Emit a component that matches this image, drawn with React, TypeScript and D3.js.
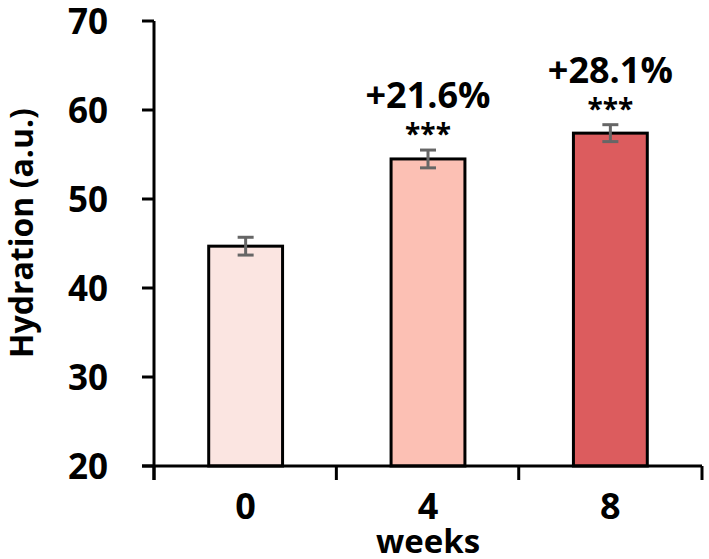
import React from 'react';
import * as d3 from 'd3';

const weeks = ['0', '4', '8'];
const hydration = [44.7, 54.5, 57.4];
const errors = [1.0, 1.0, 0.95];
const changeLabels = ['', '+21.6%', '+28.1%'];
const sigLabels = ['', '***', '***'];
const barColors = ['#fbe5e1', '#fcc0b4', '#dc5c5e'];
const yTicks = [20, 30, 40, 50, 60, 70];

const App = () => {
  const width = 709;
  const height = 559;
  const margin = { top: 21, right: 7, bottom: 93, left: 154 };
  const font = '"Open Sans", "DejaVu Sans", sans-serif';

  const x = d3.scaleBand()
    .domain(weeks)
    .range([margin.left, width - margin.right])
    .paddingInner(0.595)
    .paddingOuter(0.3);

  const y = d3.scaleLinear()
    .domain([20, 70])
    .range([height - margin.bottom, margin.top]);

  const step = x.step();
  const boundaries = weeks.map((_, i) => margin.left + i * step).concat([width - margin.right]);
  const base = y(20);

  return (
    <svg width={width} height={height} style={{ position: 'absolute', left: 0, top: 0 }}>
      <rect width={width} height={height} fill="#fff" />

      {/* bars */}
      {weeks.map((w, i) => (
        <rect key={w}
          x={x(w)} y={y(hydration[i])}
          width={x.bandwidth()} height={base - y(hydration[i])}
          fill={barColors[i]} stroke="#000" strokeWidth={3} />
      ))}

      {/* error bars */}
      {weeks.map((w, i) => {
        const cx = (x(w) as number) + x.bandwidth() / 2;
        const top = y(hydration[i] + errors[i]);
        const bot = y(hydration[i] - errors[i]);
        return (
          <g key={w} stroke="#666" strokeWidth={3}>
            <line x1={cx} x2={cx} y1={top} y2={bot} />
            <line x1={cx - 8} x2={cx + 8} y1={top} y2={top} />
            <line x1={cx - 8} x2={cx + 8} y1={bot} y2={bot} />
          </g>
        );
      })}

      {/* annotations */}
      {weeks.map((w, i) => {
        const cx = (x(w) as number) + x.bandwidth() / 2;
        const top = y(hydration[i] + errors[i]);
        return (
          <g key={w} fontFamily={font} fontWeight="bold" textAnchor="middle" fill="#000">
            <text x={cx} y={top - 6} fontSize={28}>{sigLabels[i]}</text>
            <text x={cx} y={top - 42} fontSize={36}>{changeLabels[i]}</text>
          </g>
        );
      })}

      {/* y axis */}
      <line x1={margin.left} x2={margin.left} y1={y(70)} y2={base + 14} stroke="#000" strokeWidth={3} />
      {yTicks.map(t => (
        <g key={t}>
          <line x1={margin.left - 12} x2={margin.left} y1={y(t)} y2={y(t)} stroke="#000" strokeWidth={3} />
          <text x={margin.left - 46} y={y(t)} dy="0.36em" textAnchor="end"
            fontFamily={font} fontWeight="bold" fontSize={35}>{t}</text>
        </g>
      ))}

      {/* x axis */}
      <line x1={margin.left - 12} x2={width - margin.right} y1={base} y2={base} stroke="#000" strokeWidth={3} />
      {boundaries.map((b, i) => (
        <line key={i} x1={b} x2={b} y1={base} y2={base + 14} stroke="#000" strokeWidth={3} />
      ))}
      {weeks.map(w => (
        <text key={w} x={(x(w) as number) + x.bandwidth() / 2} y={base + 53} textAnchor="middle"
          fontFamily={font} fontWeight="bold" fontSize={36}>{w}</text>
      ))}
      <text x={(x('4') as number) + x.bandwidth() / 2} y={base + 87} textAnchor="middle"
        fontFamily={font} fontWeight="bold" fontSize={33}>weeks</text>

      <text transform={`translate(33, 233) rotate(-90)`} textAnchor="middle"
        fontFamily={font} fontWeight="bold" fontSize={32}>Hydration (a.u.)</text>
    </svg>
  );
};

export default App;
